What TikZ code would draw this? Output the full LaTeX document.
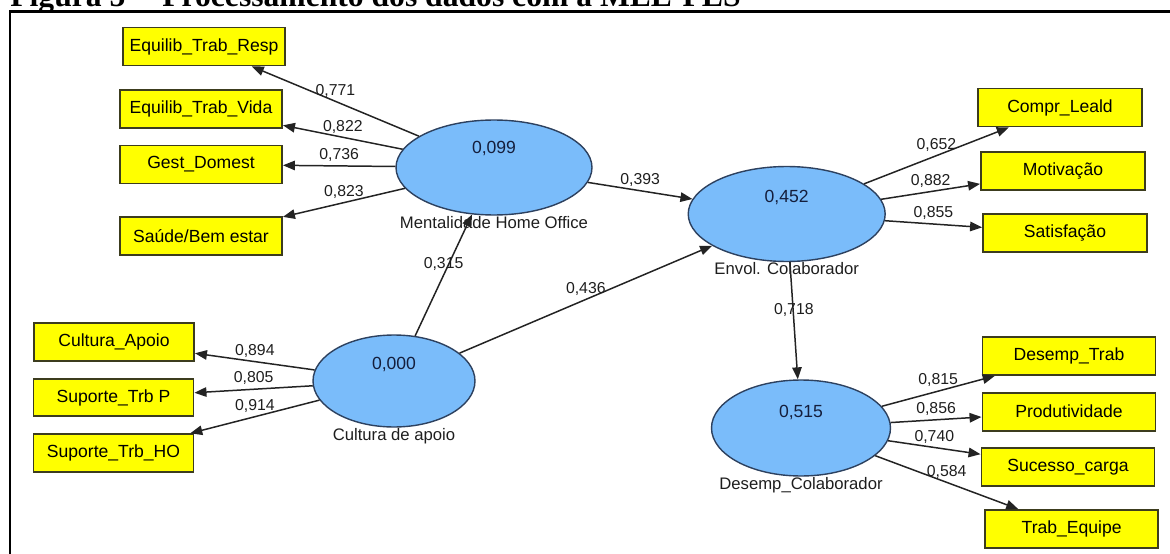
\documentclass[tikz,border=0pt]{standalone}
\usepackage{fontspec}
\setmainfont{Liberation Sans}
\newfontfamily\captionserif{Liberation Serif}
\usetikzlibrary{shapes.geometric,arrows.meta}
\definecolor{latentblue}{RGB}{122,188,250}
\definecolor{latentline}{RGB}{45,65,95}
\definecolor{itemyellow}{RGB}{255,255,0}
\definecolor{itemline}{RGB}{60,60,30}
\definecolor{pathgray}{RGB}{35,35,35}
\definecolor{labelgray}{RGB}{30,30,30}
\definecolor{valueblue}{RGB}{20,30,60}
\begin{document}
\begin{tikzpicture}[x=.02cm, y=-.02cm,
  item/.style={rectangle, draw=itemline, line width=1.1pt, fill=itemyellow,
    minimum width=3.24cm, minimum height=.76cm, inner sep=0pt,
    font=\fontsize{10}{12}\selectfont},
  itemwide/.style={item, minimum width=3.46cm},
  latent/.style={ellipse, draw=latentline, line width=.8pt, fill=latentblue,
    inner sep=0pt, label distance=3.5pt},
  latentname/.style={font=\fontsize{9.5}{11}\selectfont, text=labelgray,
    inner sep=0pt, text height=7pt, text depth=2pt},
  latentvalue/.style={font=\fontsize{10}{12}\selectfont, text=valueblue, inner sep=0pt},
  arr/.style={draw=pathgray, line width=.85pt, -{Triangle[length=.24cm, width=.19cm]}},
  coef/.style={font=\fontsize{9}{11}\selectfont, text=labelgray, inner sep=2pt, above, midway}]
\useasboundingbox (0,0) rectangle (1170,554);
\node[anchor=base west, inner sep=0pt, font=\captionserif\fontsize{18}{20}\selectfont\bfseries] (titulo) at (10,7) {Figura 5 -- Processamento dos dados com a MEE-PLS};
\draw[line width=1.6pt] (10,11.3) rectangle (1200,600);

% latent variables
\node[latent, minimum width=3.92cm, minimum height=1.9cm,
  label={[latentname, name=mentalidadename]below:Mentalidade Home Office}] (mentalidade) at (494,167.5) {};
\node[latentvalue] (mentalidadeval) at ([yshift=.38cm]mentalidade.center) {0,099};
\node[latent, minimum width=3.24cm, minimum height=1.84cm,
  label={[latentname, name=culturaname]below:Cultura de apoio}] (cultura) at (394,381) {};
\node[latentvalue] (culturaval) at ([yshift=.33cm]cultura.center) {0,000};
\node[latent, minimum width=3.94cm, minimum height=1.9cm,
  label={[latentname, name=envolname]below:Envol. Colaborador}] (envol) at (786.7,214) {};
\node[latentvalue] (envolval) at ([yshift=.34cm]envol.center) {0,452};
\node[latent, minimum width=3.58cm, minimum height=1.92cm,
  label={[latentname, name=desempname]below:Desemp\_Colaborador}] (desemp) at (801,428) {};
\node[latentvalue] (desempval) at ([yshift=.32cm]desemp.center) {0,515};

% indicators
\node[item] (equilresp) at (204,46.5) {Equilib\_Trab\_Resp};
\node[item] (equilvida) at (201,109) {Equilib\_Trab\_Vida};
\node[item] (gestdomest) at (201,164.5) {Gest\_Domest};
\node[item] (saude) at (201,236) {Saúde/Bem estar};
\node[item, minimum width=3.2cm, minimum height=.75cm] (culturaapoio) at (114,342) {Cultura\_Apoio};
\node[item, minimum width=3.2cm, minimum height=.75cm] (suportep) at (113.5,397.5) {Suporte\_Trb P};
\node[item, minimum width=3.2cm, minimum height=.75cm] (suporteho) at (113.5,453) {Suporte\_Trb\_HO};
\node[item, minimum width=3.28cm] (comprleald) at (1060,107.5) {Compr\_Leald};
\node[item, minimum width=3.28cm] (motivacao) at (1063,171) {Motivação};
\node[item, minimum width=3.28cm] (satisfacao) at (1065,233) {Satisfação};
\node[itemwide] (desemptrab) at (1069,356) {Desemp\_Trab};
\node[itemwide] (produtividade) at (1069,411.7) {Produtividade};
\node[itemwide] (sucesso) at (1068,467) {Sucesso\_carga};
\node[itemwide] (trabequipe) at (1071.7,529) {Trab\_Equipe};

% outer loadings
\draw[arr] (mentalidade) -- node[coef] (c771) {0,771} (equilresp);
\draw[arr] (mentalidade) -- node[coef] (c822) {0,822} (equilvida);
\draw[arr] (mentalidade) -- node[coef] (c736) {0,736} (gestdomest);
\draw[arr] (mentalidade) -- node[coef] (c823) {0,823} (saude);
\draw[arr] (cultura) -- node[coef] (c894) {0,894} (culturaapoio);
\draw[arr] (cultura) -- node[coef] (c805) {0,805} (suportep);
\draw[arr] (cultura) -- node[coef] (c914) {0,914} (suporteho);
\draw[arr] (envol) -- node[coef] (c652) {0,652} (comprleald);
\draw[arr] (envol) -- node[coef] (c882) {0,882} (motivacao);
\draw[arr] (envol) -- node[coef] (c855) {0,855} (satisfacao);
\draw[arr] (desemp) -- node[coef] (c815) {0,815} (desemptrab);
\draw[arr] (desemp) -- node[coef] (c856) {0,856} (produtividade);
\draw[arr] (desemp) -- node[coef] (c740) {0,740} (sucesso);
\draw[arr] (desemp) -- node[coef] (c584) {0,584} (trabequipe);

% path coefficients
\draw[arr] (cultura) -- node[coef] (c315) {0,315} (mentalidade);
\draw[arr] (cultura) -- node[coef] (c436) {0,436} (envol);
\draw[arr] (mentalidade) -- node[coef] (c393) {0,393} (envol);
\draw[arr] (envol) -- node[coef] (c718) {0,718} (desemp);
\end{tikzpicture}
\end{document}
